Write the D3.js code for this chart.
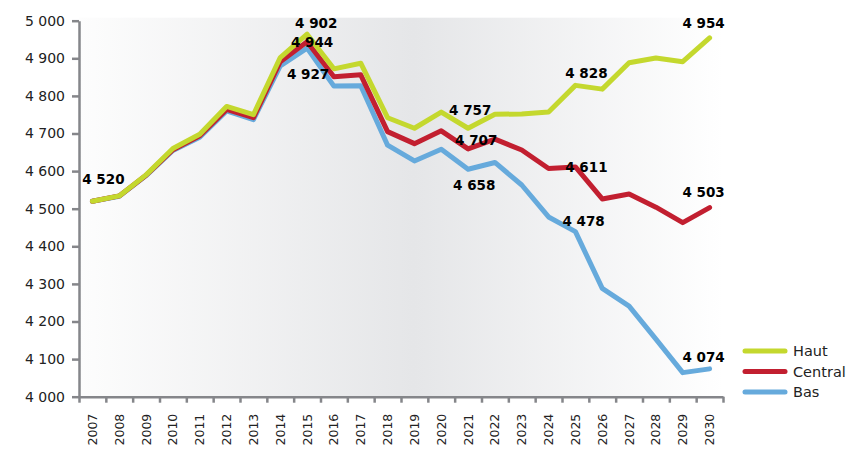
<!DOCTYPE html>
<html>
<head>
<meta charset="utf-8">
<script src="https://cdn.jsdelivr.net/npm/d3@7"></script>
<style>
  body { margin: 0; background: #fff; }
  svg { display: block; font-family: "DejaVu Sans", Verdana, sans-serif; }
</style>
</head>
<body>
<div id="chart"></div>
<script>
const years = ["2007","2008","2009","2010","2011","2012","2013","2014","2015","2016","2017","2018",
               "2019","2020","2021","2022","2023","2024","2025","2026","2027","2028","2029","2030"];

const haut    = [4520, 4534, 4590, 4660, 4698, 4772, 4750, 4902, 4964, 4872, 4887, 4742,
                 4714, 4757, 4714, 4751, 4752, 4757, 4828, 4818, 4888, 4901, 4891, 4954];
const central = [4520, 4534, 4589, 4657, 4694, 4764, 4742, 4891, 4944, 4851, 4856, 4705,
                 4673, 4707, 4659, 4685, 4656, 4607, 4611, 4526, 4539, 4504, 4463, 4503];
const bas     = [4520, 4533, 4588, 4655, 4690, 4760, 4737, 4880, 4927, 4826, 4827, 4669,
                 4627, 4658, 4605, 4623, 4563, 4478, 4439, 4288, 4241, 4153, 4064, 4074];

const seriesNames = ["Haut", "Central", "Bas"];
const yTicks = [4000, 4100, 4200, 4300, 4400, 4500, 4600, 4700, 4800, 4900, 5000];

// labelled points: [series, year]
const labelPoints = [
  ["Haut", "2007"], ["Haut", "2014"], ["Central", "2015"], ["Bas", "2015"],
  ["Haut", "2020"], ["Central", "2020"], ["Bas", "2020"],
  ["Haut", "2025"], ["Central", "2025"], ["Bas", "2024"],
  ["Haut", "2030"], ["Central", "2030"], ["Bas", "2030"]
];
// manual label offsets (like the original spreadsheet)
const labelOffsets = [
  [11, -17], [36, -30], [5, 5], [1, 31],
  [29, 3], [35, 14], [33, 41],
  [11, -7], [11, 5], [35, 9],
  [-6, -10], [-6, -11], [-6, -7]
];

const W = 848, H = 449;
const MARGIN = { LEFT: 79, RIGHT: 125, TOP: 20.7, BOTTOM: 52.3 };
const colors = { Haut: "#c4d82e", Central: "#c21f30", Bas: "#66aadc" };
const values = { Haut: haut, Central: central, Bas: bas };

const fmt = d3.formatLocale({ decimal: ",", thousands: " ", grouping: [3], currency: ["", ""] }).format(",d");

const svg = d3.select("#chart").append("svg")
  .attr("width", W)
  .attr("height", H);

const x = d3.scaleBand()
  .domain(years)
  .range([MARGIN.LEFT, W - MARGIN.RIGHT]);

const xEdge = d3.scaleLinear()
  .domain([0, years.length])
  .range([MARGIN.LEFT, W - MARGIN.RIGHT]);

const y = d3.scaleLinear()
  .domain([4000, 5000])
  .range([H - MARGIN.BOTTOM, MARGIN.TOP]);

// background gradient
const grad = svg.append("defs").append("linearGradient")
  .attr("id", "bg")
  .attr("x1", "0%").attr("x2", "100%").attr("y1", "0%").attr("y2", "0%");
grad.append("stop").attr("offset", "0%").attr("stop-color", "#fdfdfd");
grad.append("stop").attr("offset", "52%").attr("stop-color", "#e5e6e8");
grad.append("stop").attr("offset", "100%").attr("stop-color", "#ffffff");

svg.append("rect")
  .attr("x", MARGIN.LEFT)
  .attr("y", MARGIN.TOP - 3)
  .attr("width", W - MARGIN.RIGHT - MARGIN.LEFT)
  .attr("height", H - MARGIN.BOTTOM - MARGIN.TOP + 3)
  .attr("fill", "url(#bg)");

// lines
const line = d3.line()
  .x((d, i) => x(years[i]) + x.bandwidth() / 2)
  .y(d => y(d));

["Bas", "Central", "Haut"].forEach(name => {
  svg.append("path")
    .datum(values[name])
    .attr("d", line)
    .attr("fill", "none")
    .attr("stroke", colors[name])
    .attr("stroke-width", 5)
    .attr("stroke-linejoin", "round")
    .attr("stroke-linecap", "round");
});

// axes
const axisColor = "#85868a";

const yAxis = svg.append("g")
  .attr("transform", `translate(${MARGIN.LEFT},0)`)
  .call(d3.axisLeft(y).tickValues(yTicks).tickFormat(fmt).tickSize(7).tickPadding(7).tickSizeOuter(0));
yAxis.select(".domain").attr("stroke", axisColor).attr("stroke-width", 2.5);
yAxis.selectAll(".tick line").attr("stroke", axisColor).attr("stroke-width", 2.5);
yAxis.selectAll(".tick text")
  .attr("font-size", "14px")
  .attr("font-family", "DejaVu Sans")
  .attr("fill", "#222");

const xTicks = svg.append("g")
  .attr("transform", `translate(0,${H - MARGIN.BOTTOM})`)
  .call(d3.axisBottom(xEdge).tickValues(d3.range(years.length + 1)).tickFormat("").tickSize(6).tickSizeOuter(0));
xTicks.select(".domain").attr("stroke", axisColor).attr("stroke-width", 2.5);
xTicks.selectAll(".tick line").attr("stroke", axisColor).attr("stroke-width", 2.5);

const xLabels = svg.append("g")
  .attr("transform", `translate(0,${H - MARGIN.BOTTOM})`)
  .call(d3.axisBottom(x).tickSize(0).tickSizeOuter(0));
xLabels.select(".domain").remove();
xLabels.selectAll(".tick text")
  .attr("font-size", "12.5px")
  .attr("font-family", "DejaVu Sans")
  .attr("fill", "#222")
  .attr("transform", "rotate(-90)")
  .attr("text-anchor", "end")
  .attr("x", -17)
  .attr("y", 0)
  .attr("dy", "0.36em");

// data labels
svg.selectAll(".label")
  .data(labelPoints)
  .enter().append("text")
  .attr("class", "label")
  .attr("x", (d, i) => x(d[1]) + x.bandwidth() / 2 + labelOffsets[i][0])
  .attr("y", (d, i) => y(values[d[0]][years.indexOf(d[1])]) + labelOffsets[i][1])
  .attr("text-anchor", "middle")
  .attr("font-size", "13.5px")
  .attr("font-weight", "bold")
  .attr("fill", "#000")
  .text(d => fmt(values[d[0]][years.indexOf(d[1])]));

// legend
const legend = svg.append("g")
  .attr("transform", "translate(745,351)");
seriesNames.forEach((name, i) => {
  const g = legend.append("g").attr("transform", `translate(0,${i * 20.5})`);
  g.append("line")
    .attr("x1", 0).attr("x2", 40)
    .attr("y1", 0).attr("y2", 0)
    .attr("stroke", colors[name])
    .attr("stroke-width", 5)
    .attr("stroke-linecap", "round");
  g.append("text")
    .attr("x", 48)
    .attr("y", 0)
    .attr("dy", "0.35em")
    .attr("font-size", "14.5px")
    .attr("fill", "#222")
    .text(name);
});
</script>
</body>
</html>
